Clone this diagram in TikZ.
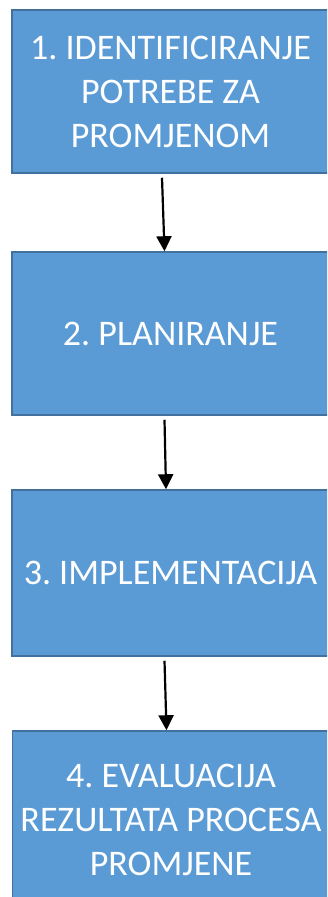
\documentclass[tikz,border=0pt]{standalone}
\usepackage{fontspec}
\setmainfont{Carlito}
\usepackage{xcolor}
\usepackage{tikz}
\usetikzlibrary{arrows.meta,positioning,calc}
\definecolor{korak}{HTML}{5B9BD5}
\definecolor{rub}{HTML}{41719C}
\frenchspacing

\begin{document}
\begin{tikzpicture}[x=1pt,y=-1pt,
		korakbox/.style={draw=rub,line width=1.5pt,fill=korak,text=white,
			minimum width=317pt,align=center,font=\fontsize{36}{44}\selectfont,inner sep=0pt},
		strelica/.style={line width=2.2pt,-{Triangle[length=15pt,width=15pt]}}]
		\useasboundingbox (0,0) rectangle (327,897);
		\clip (0,0) rectangle (327,897);
		\node[korakbox,minimum height=163pt] (k1) at (170.5,91.5) {1. IDENTIFICIRANJE\\POTREBE ZA\\PROMJENOM};
		\node[korakbox,minimum height=163pt] (k2) at (170.5,333.5) {2. PLANIRANJE};
		\node[korakbox,minimum height=166pt] (k3) at (170.5,573) {3. IMPLEMENTACIJA};
		\node[korakbox,minimum height=178pt] (k4) at (171,820) {4. EVALUACIJA\\REZULTATA PROCESA\\PROMJENE};
		\draw[strelica] ([xshift=-8.5pt,yshift=-4pt]k1.south) -- ([xshift=-6pt]k2.north);
		\draw[strelica] ([xshift=-6pt,yshift=-4pt]k2.south) -- ([xshift=-4.5pt]k3.north);
		\draw[strelica] ([xshift=-6pt,yshift=-4pt]k3.south) -- ([xshift=-4.5pt]k4.north);
	\end{tikzpicture}
\end{document}
